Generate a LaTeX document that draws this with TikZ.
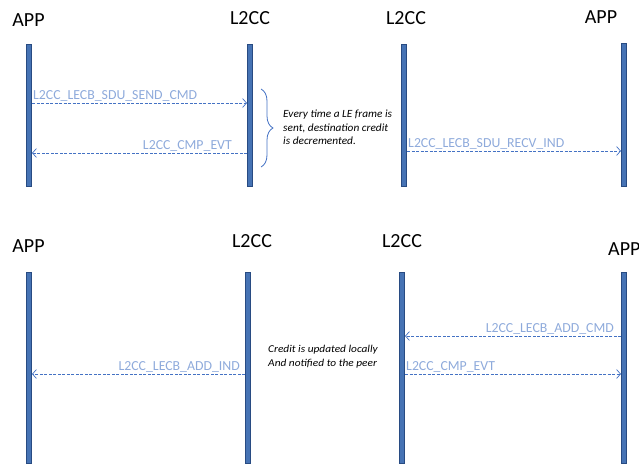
\documentclass[tikz,border=0pt]{standalone}
\usepackage{fontspec}
\setmainfont{Carlito}
\newfontfamily\notefont[FakeStretch=1.03]{Carlito}
\newfontfamily\notefontb[FakeStretch=1.08]{Carlito}
\usetikzlibrary{positioning}
\usetikzlibrary{arrows.meta}
\usetikzlibrary{decorations.pathreplacing}
\definecolor{barfill}{RGB}{70,115,180}
\definecolor{baredge}{RGB}{40,75,130}
\definecolor{msgline}{RGB}{68,114,196}
\definecolor{msgtext}{RGB}{142,170,219}

\tikzset{
  lifebar/.style={rectangle, minimum width=5pt, inner sep=0pt, fill=barfill, draw=baredge, line width=0.6pt},
  head/.style={font=\fontsize{20}{20}\selectfont, inner sep=0pt},
  msg/.style={draw=msgline, dashed, dash pattern=on 3pt off 1.5pt, line width=0.7pt, -{Straight Barb[length=4pt,width=9pt]}},
  msglabel/.style={font=\fontsize{13.8}{14}\selectfont, text=msgtext, inner sep=1pt},
  note/.style={font=\fontsize{11}{13.5}\notefont\itshape, align=left, inner sep=0pt},
}

\begin{document}
\begin{tikzpicture}[x=1pt, y=1pt]
\useasboundingbox (0,0) rectangle (639,-465);
% top diagram
\node (hA1) [head] at (28.5,-20) {APP};
\node (hL1) [head] at (250,-18.5) {L2CC};
\node (hL2) [head] at (406,-18.5) {L2CC};
\node (hA2) [head] at (601,-17.5) {APP};
\node (bA1) [lifebar, minimum height=142pt] at (28.5,-115) {};
\node (bL1) [lifebar, minimum height=142pt] at (250,-115) {};
\node (bL2) [lifebar, minimum height=142pt] at (404,-115) {};
\node (bA2) [lifebar, minimum height=143pt] at (624,-114.5) {};
\coordinate (s1) at (32,-103);
\coordinate (s2) at (247,-103);
\coordinate (e1) at (247,-153);
\coordinate (e2) at (32,-153);
\coordinate (r1) at (407,-151);
\coordinate (r2) at (621,-151);
\draw [msg] (s1) -- (s2);
\node [msglabel, anchor=south west] at (s1) {L2CC\_LECB\_SDU\_SEND\_CMD};
\draw [msg] (e1) -- (e2);
\node [msglabel, anchor=south east] at ([xshift=-14pt]e1) {L2CC\_CMP\_EVT};
\draw [msg] (r1) -- (r2);
\node [msglabel, anchor=south west] at (r1) {L2CC\_LECB\_SDU\_RECV\_IND};
\coordinate (bt) at (261,-89);
\coordinate (bb) at (261,-167);
\draw [msgline, line width=0.8pt, decorate, decoration={brace, amplitude=12pt}] (bt) -- (bb);
\node (n1) [note, anchor=north west] at (283,-110) {Every time a LE frame is\\sent, destination credit\\is decremented.};
% bottom diagram
\node (hA3) [head] at (28.5,-246) {APP};
\node (hL3) [head] at (252,-241.5) {L2CC};
\node (hL4) [head] at (402,-241.5) {L2CC};
\node (hA4) [head, anchor=west] at (608,-249) {APP};
\node (bA3) [lifebar, minimum height=191pt] at (28.5,-367.5) {};
\node (bL3) [lifebar, minimum height=191pt] at (248,-367.5) {};
\node (bL4) [lifebar, minimum height=191pt] at (402,-367.5) {};
\node (bA4) [lifebar, minimum height=191pt] at (624,-367.5) {};
\coordinate (c1) at (621,-336);
\coordinate (c2) at (405,-336);
\coordinate (v1) at (405,-374);
\coordinate (v2) at (621,-374);
\coordinate (i1) at (245,-374);
\coordinate (i2) at (32,-374);
\draw [msg] (c1) -- (c2);
\node [msglabel, anchor=south east] at ([xshift=-6pt]c1) {L2CC\_LECB\_ADD\_CMD};
\draw [msg] (v1) -- (v2);
\node [msglabel, anchor=south west] at (v1) {L2CC\_CMP\_EVT};
\draw [msg] (i1) -- (i2);
\node [msglabel, anchor=south east] at ([xshift=-4pt]i1) {L2CC\_LECB\_ADD\_IND};
\node (n2) [note, font=\fontsize{10.5}{14}\notefontb\itshape, anchor=north west] at (268,-345) {Credit is updated locally\\And notified to the peer};
\end{tikzpicture}
\end{document}
